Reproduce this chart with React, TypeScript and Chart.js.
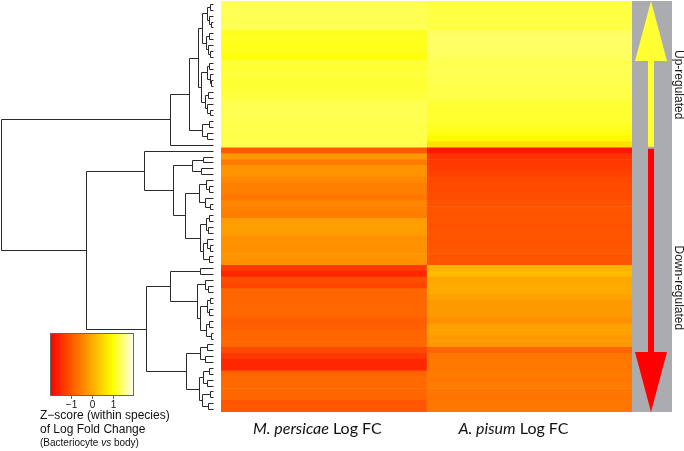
import React, { useEffect, useRef } from "react";
import { Chart, registerables } from "chart.js";

Chart.register(...registerables);

// ---------- data ----------
const columnNames = ["M. persicae", "A. pisum"];
const columnSuffix = " Log FC";

// Z-scores (within species) of log fold change, one per gene row (top to bottom)
const mpZ = [
  1.35, 1.34, 1.35, 1.33, 1.34, 1.12, 1.13, 1.1, 1.12, 1.04,
  1.22, 1.2, 1.24, 1.22, 1.2, 1.23, 1.25, 1.33, 1.32, 1.34,
  1.32, 1.3, 1.31, 1.3, 1.33,
  -0.95, -0.2, -0.57, -0.27, -0.27, -0.4, -0.5, -0.5, -0.6, -0.45,
  -0.5, -0.52, -0.15, -0.12, -0.15, -0.3, -0.28, -0.3, -0.25, -0.3,
  -1.3, -1.55, -1.1, -1.2, -0.8, -0.8, -0.8, -0.78, -0.8, -0.9,
  -0.88, -0.8, -0.8, -0.8, -1.15, -1.35, -1.55, -1.55, -0.85, -0.75,
  -0.75, -0.78, -0.8, -1.0, -0.95,
];
const apZ = [
  1.27, 1.28, 1.27, 1.26, 1.27, 1.4, 1.42, 1.4, 1.41, 1.38,
  1.33, 1.34, 1.32, 1.33, 1.3, 1.3, 1.28, 1.22, 1.2, 1.2,
  1.18, 1.15, 1.08, 0.92, 0.65,
  -1.75, -1.4, -1.35, -1.3, -1.25, -1.15, -1.12, -1.1, -1.1, -1.05,
  -1.0, -1.02, -1.0, -1.03, -1.0, -1.02, -1.0, -0.98, -1.0, -1.0,
  0.1, 0.2, -0.05, 0.0, 0.0, -0.1, -0.2, -0.18, -0.2, -0.3,
  -0.12, -0.1, -0.2, -0.22, -0.8, -0.6, -0.58, -0.6, -0.55, -0.6,
  -0.55, -0.6, -0.65, -0.6, -0.58,
];
const upRegulatedCount = 25;
const rowLabels = mpZ.map((_, i) => `gene ${i + 1}`);

// Row dendrogram: [height, left, right]; leaves are row indices
const tree: any = [10,
  [2.03,
    [1.13,
      [0.72,
        [0.5, [0.3, [0.15, 0, 1], [0.2, 2, [0.1, 3, 4]]], [0.35, [0.18, 5, 6], [0.25, 7, [0.12, 8, 9]]]],
        [0.55, [0.3, [0.2, 10, 11], [0.15, 12, [0.08, 13, 14]]], [0.4, [0.22, 15, 16], [0.28, 17, [0.14, 18, 19]]]]],
      [0.52, [0.2, 20, 21], [0.3, 22, 23]]],
    24],
  [6.0,
    [3.25, 25,
      [1.9,
        [1.0, [0.45, 26, 27], [0.55, 28, 29]],
        [1.32,
          [0.66, [0.35, 30, [0.2, 31, 32]], [0.4, 33, [0.15, 34, 35]]],
          [0.6, [0.35, [0.2, 36, 37], [0.25, 38, 39]], [0.45, [0.3, 40, [0.15, 41, 42]], [0.2, 43, 44]]]]]],
    [3.16,
      [2.03, [0.6, 45, 46],
        [0.75, [0.4, 47, [0.25, 48, 49]],
          [0.6, [0.3, [0.15, 50, 51], [0.2, 52, 53]], [0.35, [0.2, 54, 55], [0.1, 56, 57]]]]],
      [1.29, [0.6, [0.3, 58, 59], [0.4, 60, 61]],
        [0.65, [0.45, [0.2, 62, 63], [0.3, 64, 65]], [0.5, [0.15, 66, 67], [0.25, 68, 69]]]]]]];

const zRange = [-2, 2];
const zTicks = [-1, 0, 1];
const sideLabels = ["Up-regulated", "Down-regulated"];
const legendTitle = ["Z\u2212score (within species)", "of Log Fold Change"];

// ---------- colour map (heat colours: red -> yellow -> white) ----------
function heatColor(z: number): string {
  let t = (z - zRange[0]) / (zRange[1] - zRange[0]);
  t = Math.max(0, Math.min(1, t));
  if (t <= 0.75) {
    const g = Math.round(255 * (t / 0.75));
    return `rgb(255,${g},0)`;
  }
  const u = (t - 0.75) / 0.25;
  const s = 1 - u * 0.97;
  const b = Math.round(255 * (1 - s));
  return `rgb(255,255,${b})`;
}

const overlay = {
  id: "overlay",
  afterDatasetsDraw(chart: any) {
    const { ctx, chartArea: a, scales } = chart;
    const ys = scales.y;
    ctx.save();

    // ---- dendrogram ----
    const leafX = a.left - 8;
    const rootX = 1;
    const rootH = tree[0];
    const hx = (h: number) => leafX - (h / rootH) * (leafX - rootX);
    const snap = (v: number) => Math.round(v) + 0.5;
    ctx.strokeStyle = "#2a2a2a";
    ctx.lineWidth = 1;
    ctx.beginPath();
    const walk = (node: any): { y: number; h: number } => {
      if (typeof node === "number") return { y: ys.getPixelForValue(node), h: 0 };
      const [h, l, r] = node;
      const L = walk(l);
      const R = walk(r);
      const x = snap(hx(h));
      ctx.moveTo(x, snap(L.y));
      ctx.lineTo(x, snap(R.y));
      ctx.moveTo(x, snap(L.y));
      ctx.lineTo(snap(hx(L.h)), snap(L.y));
      ctx.moveTo(x, snap(R.y));
      ctx.lineTo(snap(hx(R.h)), snap(R.y));
      return { y: (L.y + R.y) / 2, h };
    };
    walk(tree);
    ctx.stroke();

    // ---- side bar with arrows ----
    const barL = a.right;
    const barW = 40;
    ctx.fillStyle = "#abacb0";
    ctx.fillRect(barL, a.top, barW, a.bottom - a.top);
    const boundary =
      (ys.getPixelForValue(upRegulatedCount - 1) + ys.getPixelForValue(upRegulatedCount)) / 2;
    const cx = barL + 19;
    const headHalf = 16;
    const headLen = 60;
    const shaftHalf = 3;
    // up arrow
    ctx.fillStyle = "#ffff33";
    ctx.beginPath();
    ctx.moveTo(cx, a.top);
    ctx.lineTo(cx + headHalf, a.top + headLen);
    ctx.lineTo(cx - headHalf, a.top + headLen);
    ctx.closePath();
    ctx.fill();
    ctx.fillRect(cx - shaftHalf, a.top + headLen - 1, shaftHalf * 2, boundary - 1 - (a.top + headLen - 1));
    // down arrow
    ctx.fillStyle = "#ff0000";
    ctx.fillRect(cx - shaftHalf, boundary + 1, shaftHalf * 2, a.bottom - headLen + 1 - (boundary + 1));
    ctx.beginPath();
    ctx.moveTo(cx, a.bottom);
    ctx.lineTo(cx + headHalf, a.bottom - headLen);
    ctx.lineTo(cx - headHalf, a.bottom - headLen);
    ctx.closePath();
    ctx.fill();

    // side labels (rotated)
    ctx.fillStyle = "#1a1a1a";
    ctx.font = '12px "Liberation Sans", Arial, sans-serif';
    ctx.textAlign = "center";
    ctx.textBaseline = "middle";
    const sideY = [a.top + (boundary - a.top) * 0.57, boundary + (a.bottom - boundary) * 0.53];
    sideLabels.forEach((txt, i) => {
      ctx.save();
      ctx.translate(barL + barW + 6, sideY[i]);
      ctx.rotate(Math.PI / 2);
      ctx.fillText(txt, 0, 0);
      ctx.restore();
    });

    // ---- column labels ----
    const xs = scales.x;
    ctx.textAlign = "left";
    ctx.textBaseline = "alphabetic";
    ctx.fillStyle = "#111";
    columnNames.forEach((name, i) => {
      let x = xs.getPixelForValue(i) + 32;
      const yb = a.bottom + 22;
      ctx.font = 'italic 16px Lato, "Open Sans", sans-serif';
      ctx.fillText(name, x, yb);
      x += ctx.measureText(name).width;
      ctx.font = '16px Lato, "Open Sans", sans-serif';
      ctx.fillText(columnSuffix, x, yb);
    });

    // ---- colour key ----
    const kx0 = 50, kx1 = 134, ky0 = 333, ky1 = 395;
    for (let px = kx0; px < kx1; px++) {
      const z = zRange[0] + ((px + 0.5 - kx0) / (kx1 - kx0)) * (zRange[1] - zRange[0]);
      ctx.fillStyle = heatColor(z);
      ctx.fillRect(px, ky0, 1, ky1 - ky0);
    }
    ctx.strokeStyle = "#666";
    ctx.lineWidth = 1;
    ctx.strokeRect(kx0 + 0.5, ky0 + 0.5, kx1 - kx0 - 1, ky1 - ky0);
    ctx.beginPath();
    ctx.font = '10px "Liberation Sans", Arial, sans-serif';
    ctx.fillStyle = "#111";
    ctx.textAlign = "center";
    ctx.textBaseline = "top";
    zTicks.forEach((z) => {
      const x = Math.round(kx0 + ((z - zRange[0]) / (zRange[1] - zRange[0])) * (kx1 - kx0)) + 0.5;
      ctx.moveTo(x, ky1 + 0.5);
      ctx.lineTo(x, ky1 + 4);
      ctx.fillText(z < 0 ? "\u2212" + Math.abs(z) : String(z), x, ky1 + 5);
    });
    ctx.stroke();

    ctx.textAlign = "left";
    ctx.textBaseline = "middle";
    ctx.font = '12px "Liberation Sans", Arial, sans-serif';
    ctx.fillText(legendTitle[0], 40, 416);
    ctx.fillText(legendTitle[1], 40, 430);
    let tx = 40;
    const parts: [string, boolean][] = [["(Bacteriocyte ", false], ["vs", true], [" body)", false]];
    parts.forEach(([s, it]) => {
      ctx.font = (it ? "italic " : "") + '10px "Liberation Sans", Arial, sans-serif';
      ctx.fillText(s, tx, 443);
      tx += ctx.measureText(s).width;
    });

    ctx.restore();
  },
};

export default function App() {
  const ref = useRef<HTMLCanvasElement>(null);
  useEffect(() => {
    const chart = new Chart(ref.current as HTMLCanvasElement, {
      type: "bar",
      data: {
        labels: rowLabels,
        datasets: [
          {
            label: columnNames[0],
            data: mpZ.map(() => [0, 1]) as any,
            backgroundColor: mpZ.map(heatColor),
            grouped: false,
            barPercentage: 1,
            categoryPercentage: 1,
            borderWidth: 0,
          } as any,
          {
            label: columnNames[1],
            data: apZ.map(() => [1, 2]) as any,
            backgroundColor: apZ.map(heatColor),
            grouped: false,
            barPercentage: 1,
            categoryPercentage: 1,
            borderWidth: 0,
          } as any,
        ],
      },
      options: {
        indexAxis: "y",
        animation: false,
        responsive: false,
        events: [],
        layout: { padding: { left: 221, right: 52, top: 1, bottom: 39 } },
        scales: {
          x: { type: "linear", min: 0, max: 2, display: false } as any,
          y: { display: false },
        },
        plugins: { legend: { display: false }, tooltip: { enabled: false } },
      },
      plugins: [overlay],
    });
    return () => chart.destroy();
  }, []);
  return (
    <div style={{ position: "absolute", left: 0, top: 0, width: 684, height: 451, background: "#fff" }}>
      <canvas ref={ref} width={684} height={451} style={{ display: "block", width: 684, height: 451 }} />
    </div>
  );
}
